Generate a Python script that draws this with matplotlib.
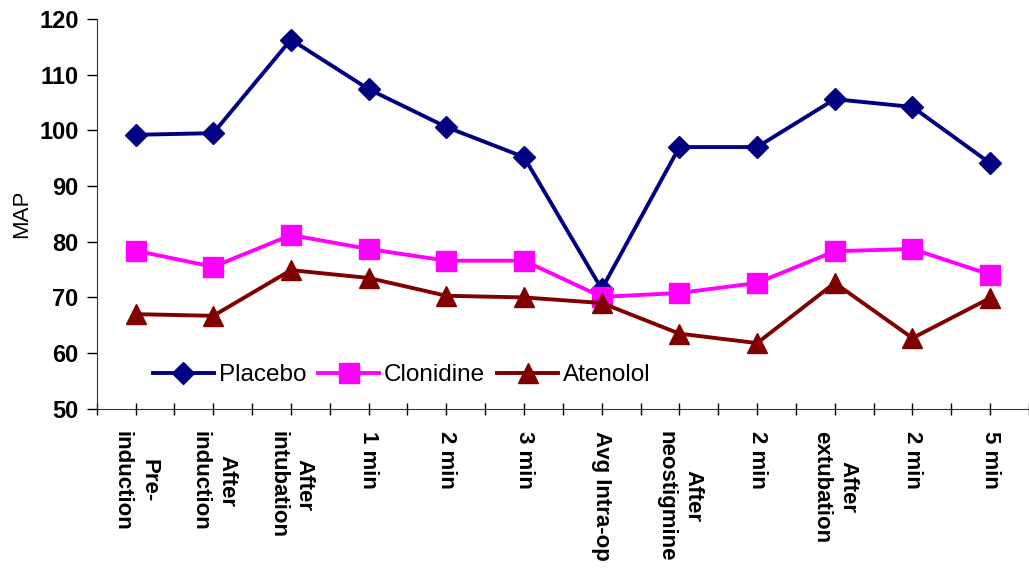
import numpy as np
import matplotlib
matplotlib.use("Agg")
import matplotlib.pyplot as plt

# mean arterial pressure at each time point
categories = ["Pre-\ninduction", "After\ninduction", "After\nintubation", "1 min",
              "2 min", "3 min", "Avg Intra-op", "After\nneostigmine", "2 min",
              "After\nextubation", "2 min", "5 min"]
placebo = [99.2, 99.5, 116.3, 107.4, 100.6, 95.2, 71.5, 97.0, 97.0, 105.6, 104.2, 94.1]
clonidine = [78.4, 75.5, 81.2, 78.7, 76.6, 76.6, 70.1, 70.8, 72.6, 78.3, 78.7, 74.1]
atenolol = [67.0, 66.7, 74.9, 73.5, 70.3, 70.0, 69.0, 63.5, 61.8, 72.6, 62.7, 69.9]

plt.rcParams['font.family'] = ['Liberation Sans', 'DejaVu Sans']

fig = plt.figure(figsize=(10.29, 5.75), dpi=100)
ax = fig.add_axes([0.094, 0.289, 0.906, 0.678])

x = np.arange(len(categories))
ax.plot(x, placebo, color='#000080', lw=2.8, marker='D', ms=11, label='Placebo')
ax.plot(x, clonidine, color='#FF00FF', lw=2.8, marker='s', ms=14, label='Clonidine')
ax.plot(x, atenolol, color='#800000', lw=2.8, marker='^', ms=15, label='Atenolol')

ax.set_ylim(50, 120)
ax.set_yticks(range(50, 121, 10))
ax.set_xlim(-0.5, len(categories) - 0.5)

# ticks at each category and between categories
ax.set_xticks(np.arange(-0.5, len(categories), 0.5))
ax.set_xticklabels([])
ax.tick_params(axis='x', direction='inout', length=9, width=1)
ax.tick_params(axis='y', direction='out', length=7, width=1, labelsize=17, pad=6)
for lab in ax.get_yticklabels():
    lab.set_fontweight('bold')

for xi, name in zip(x, categories):
    ax.annotate(name, xy=(xi, 0), xycoords=('data', 'axes fraction'),
                xytext=(0, -16), textcoords='offset points',
                rotation=270, ha='center', va='top', multialignment='center',
                fontsize=16, fontweight='bold', linespacing=1.35)

for s in ['top', 'right']:
    ax.spines[s].set_visible(False)
for s in ['left', 'bottom']:
    ax.spines[s].set_color('#333333')

ax.set_ylabel('MAP', fontsize=16, labelpad=5)

ax.legend(loc='center left', bbox_to_anchor=(153 / 1029, 1 - 375 / 575),
          bbox_transform=fig.transFigure, ncol=3, frameon=False, fontsize=17.5,
          numpoints=1, handlelength=2.5, handletextpad=0.2, columnspacing=0.5,
          borderpad=0, borderaxespad=0)

fig.savefig('out.png', dpi=100)
